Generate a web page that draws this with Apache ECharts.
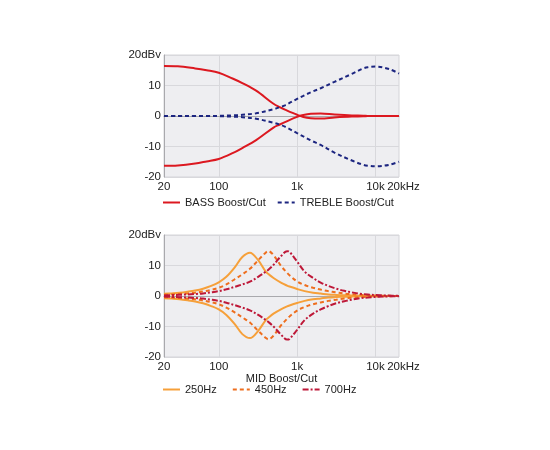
<!DOCTYPE html>
<html>
<head>
<meta charset="utf-8">
<script src="https://cdn.jsdelivr.net/npm/echarts@6/dist/echarts.min.js"></script>
<style>
html,body{margin:0;padding:0;background:#fff;}
#c{width:550px;height:450px;}
</style>
</head>
<body>
<div id="c"></div>
<script>
// Tick labels
const xTickFreqs = [20, 100, 1000, 10000];
const xTickLabels = ['20', '100', '1k', '10k'];
const xEndFreq = 20000;
const xEndLabel = '20kHz';
const yTickValues = [-20, -10, 0, 10, 20];
const yTickLabels = ['-20', '-10', '0', '10', '20dBv'];

// Top chart: BASS / TREBLE
const topFreqs = [20, 30, 50, 70, 100, 150, 200, 300, 500, 600, 700, 1000, 1200, 1500, 2000, 3000, 5000, 7000, 8000, 10000, 15000, 20000];
const bassBoost = [16.4, 16.3, 15.6, 15.0, 14.2, 12.3, 10.8, 8.3, 4.0, 2.9, 2.1, 0.4, -0.3, -0.7, -0.8, -0.5, -0.2, -0.1, 0, 0, 0, 0];
const bassCut = [-16.3, -16.2, -15.6, -14.9, -14.1, -12.2, -10.5, -7.9, -3.8, -2.8, -2.0, -0.3, 0.3, 0.7, 0.8, 0.5, 0.2, 0.1, 0, 0, 0, 0];
const trebleBoost = [0, 0, 0, 0, 0.05, 0.2, 0.4, 0.9, 2.2, 2.9, 3.5, 5.6, 6.6, 7.8, 9.1, 11.2, 13.8, 15.6, 16.0, 16.2, 15.4, 13.9];
const trebleCut = [0, 0, 0, 0, -0.05, -0.2, -0.4, -0.9, -2.2, -2.8, -3.5, -5.6, -6.7, -8.0, -9.5, -12.0, -14.6, -16.0, -16.3, -16.5, -16.0, -15.0];

// Bottom chart: MID
const midFreqs = [20, 25, 31.5, 40, 50, 63, 80, 100, 125, 160, 200, 250, 315, 400, 430, 500, 630, 745, 800, 1000, 1250, 1600, 2000, 2500, 3150, 4000, 5000, 6300, 8000, 10000, 12500, 16000, 20000];
const mid250Boost = [0.7, 0.85, 1.05, 1.4, 1.8, 2.4, 3.3, 4.5, 6.3, 9.4, 12.8, 14.2, 11.9, 7.9, 7.2, 5.9, 4.3, 3.4, 3.1, 2.3, 1.6, 1.1, 0.8, 0.5, 0.35, 0.25, 0.15, 0.1, 0.05, 0, 0, 0, 0];
const mid250Cut = [-0.7, -0.85, -1.05, -1.4, -1.8, -2.4, -3.3, -4.4, -6.2, -9.2, -12.5, -13.8, -11.6, -7.8, -7.1, -5.8, -4.3, -3.4, -3.1, -2.3, -1.6, -1.1, -0.8, -0.5, -0.35, -0.25, -0.15, -0.1, -0.05, 0, 0, 0, 0];
const mid450Boost = [0.4, 0.5, 0.65, 0.85, 1.1, 1.45, 2.0, 2.7, 3.8, 5.5, 7.1, 8.9, 11.6, 14.3, 14.7, 13.4, 9.7, 7.6, 6.8, 4.8, 3.6, 2.7, 2.1, 1.6, 1.2, 0.8, 0.6, 0.4, 0.25, 0.15, 0.1, 0.05, 0];
const mid450Cut = [-0.4, -0.5, -0.65, -0.85, -1.1, -1.45, -2.0, -2.7, -3.8, -5.4, -7.0, -8.7, -11.3, -13.8, -14.2, -13.0, -9.5, -7.5, -6.7, -4.8, -3.6, -2.7, -2.1, -1.6, -1.2, -0.8, -0.6, -0.4, -0.25, -0.15, -0.1, -0.05, 0];
const mid700Boost = [0.2, 0.3, 0.4, 0.5, 0.65, 0.85, 1.2, 1.6, 2.2, 3.0, 3.8, 4.7, 6.2, 8.0, 8.6, 10.2, 13.2, 14.7, 14.5, 11.3, 8.0, 5.9, 4.4, 3.3, 2.4, 1.7, 1.2, 0.75, 0.5, 0.3, 0.2, 0.1, 0.05];
const mid700Cut = [-0.2, -0.3, -0.4, -0.5, -0.65, -0.85, -1.2, -1.6, -2.2, -3.0, -3.8, -4.7, -6.1, -7.9, -8.5, -10.0, -12.8, -14.3, -14.1, -11.1, -7.9, -5.8, -4.4, -3.3, -2.4, -1.7, -1.2, -0.75, -0.5, -0.3, -0.2, -0.1, -0.05];

const L = Math.log10;
function pairs(freqs, vals) { return freqs.map((f, i) => [L(f), vals[i]]); }

const FONT = 'Liberation Sans, Arial, sans-serif';
const TXT = '#222';
const AXFS = 11.5;

function xAxisDef(gridIndex, name) {
  const labelMap = {};
  xTickFreqs.forEach((f, i) => { labelMap[L(f).toFixed(4)] = xTickLabels[i]; });
  return {
    type: 'value', gridIndex, position: 'bottom',
    min: L(20), max: L(20000),
    name: name || '', nameLocation: 'middle', nameGap: 14,
    nameTextStyle: { color: TXT, fontSize: 11, fontFamily: FONT },
    axisLine: { show: true, lineStyle: { color: '#a9a9ad', width: 1 } },
    axisTick: { show: false, customValues: [2, 3, 4] },
    axisLabel: {
      customValues: xTickFreqs.map(L),
      showMinLabel: true, showMaxLabel: true,
      color: TXT, fontSize: AXFS, fontFamily: FONT, margin: 4,
      formatter: v => labelMap[Number(v).toFixed(4)] || ''
    },
    splitLine: { show: true, lineStyle: { color: '#d8d8dc', width: 1 } }
  };
}
// second axis on the same grid that only carries the end label
function xEndAxisDef(gridIndex) {
  return {
    type: 'value', gridIndex, position: 'bottom', offset: 0,
    min: L(20), max: L(20000),
    axisLine: { show: false }, axisTick: { show: false }, splitLine: { show: false },
    axisLabel: {
      customValues: [L(xEndFreq)], showMinLabel: true, showMaxLabel: true,
      color: TXT, fontSize: AXFS, fontFamily: FONT, margin: 4, padding: [0, 0, 0, 9],
      formatter: () => xEndLabel
    }
  };
}
function yAxisDef(gridIndex) {
  return {
    type: 'value', gridIndex, min: -20, max: 20, interval: 10,
    axisLine: { show: true, lineStyle: { color: '#a9a9ad', width: 1 } },
    axisTick: { show: false },
    axisLabel: {
      color: TXT, fontSize: AXFS, fontFamily: FONT, margin: 3,
      formatter: v => { const i = yTickValues.indexOf(v); return i >= 0 ? yTickLabels[i] : ''; }
    },
    splitLine: { show: true, lineStyle: { color: '#d8d8dc', width: 1 } }
  };
}
function line(name, idx, data, color, type) {
  return {
    name, type: 'line', xAxisIndex: idx, yAxisIndex: idx, data,
    smooth: 0.35, symbol: 'none', showSymbol: false, silent: true,
    lineStyle: { color, width: 2, type: type || 'solid' },
    itemStyle: { color }
  };
}

const legendCommon = {
  padding: 0, itemWidth: 17, itemHeight: 10, selectedMode: false,
  itemStyle: { opacity: 0, color: 'transparent', borderColor: 'transparent', borderWidth: 0 },
  textStyle: { color: TXT, fontSize: 11, fontFamily: FONT }
};

const RED = '#dc1820', NAVY = '#1c2580', O1 = '#f6a03a', O2 = '#ee6e1e', O3 = '#be1838';
const chart = echarts.init(document.getElementById('c'), null, { renderer: 'canvas' });
chart.setOption({
  animation: false,
  backgroundColor: '#fff',
  textStyle: { fontFamily: FONT },
  grid: [
    { left: 164, right: 151, top: 55, height: 122, show: true, backgroundColor: '#eeeef1', borderColor: '#d4d4d8', borderWidth: 1 },
    { left: 164, right: 151, top: 235, height: 122, show: true, backgroundColor: '#eeeef1', borderColor: '#d4d4d8', borderWidth: 1 }
  ],
  xAxis: [xAxisDef(0), xAxisDef(1, 'MID Boost/Cut'), xEndAxisDef(0), xEndAxisDef(1)],
  yAxis: [yAxisDef(0), yAxisDef(1)],
  legend: [
    Object.assign({ data: ['BASS Boost/Cut', 'TREBLE Boost/Cut'], left: 162, top: 197, itemGap: 11 }, legendCommon),
    Object.assign({ data: ['250Hz', '450Hz', '700Hz'], left: 162, top: 384, itemGap: 15 }, legendCommon)
  ],
  series: [
    line('BASS Boost/Cut', 0, pairs(topFreqs, bassBoost), RED),
    line('BASS Boost/Cut', 0, pairs(topFreqs, bassCut), RED),
    line('TREBLE Boost/Cut', 0, pairs(topFreqs, trebleBoost), NAVY, [4, 3]),
    line('TREBLE Boost/Cut', 0, pairs(topFreqs, trebleCut), NAVY, [4, 3]),
    line('250Hz', 1, pairs(midFreqs, mid250Boost), O1),
    line('250Hz', 1, pairs(midFreqs, mid250Cut), O1),
    line('450Hz', 1, pairs(midFreqs, mid450Boost), O2, [4, 3]),
    line('450Hz', 1, pairs(midFreqs, mid450Cut), O2, [4, 3]),
    line('700Hz', 1, pairs(midFreqs, mid700Boost), O3, [6, 2, 2, 2]),
    line('700Hz', 1, pairs(midFreqs, mid700Cut), O3, [6, 2, 2, 2])
  ]
});
</script>
</body>
</html>
